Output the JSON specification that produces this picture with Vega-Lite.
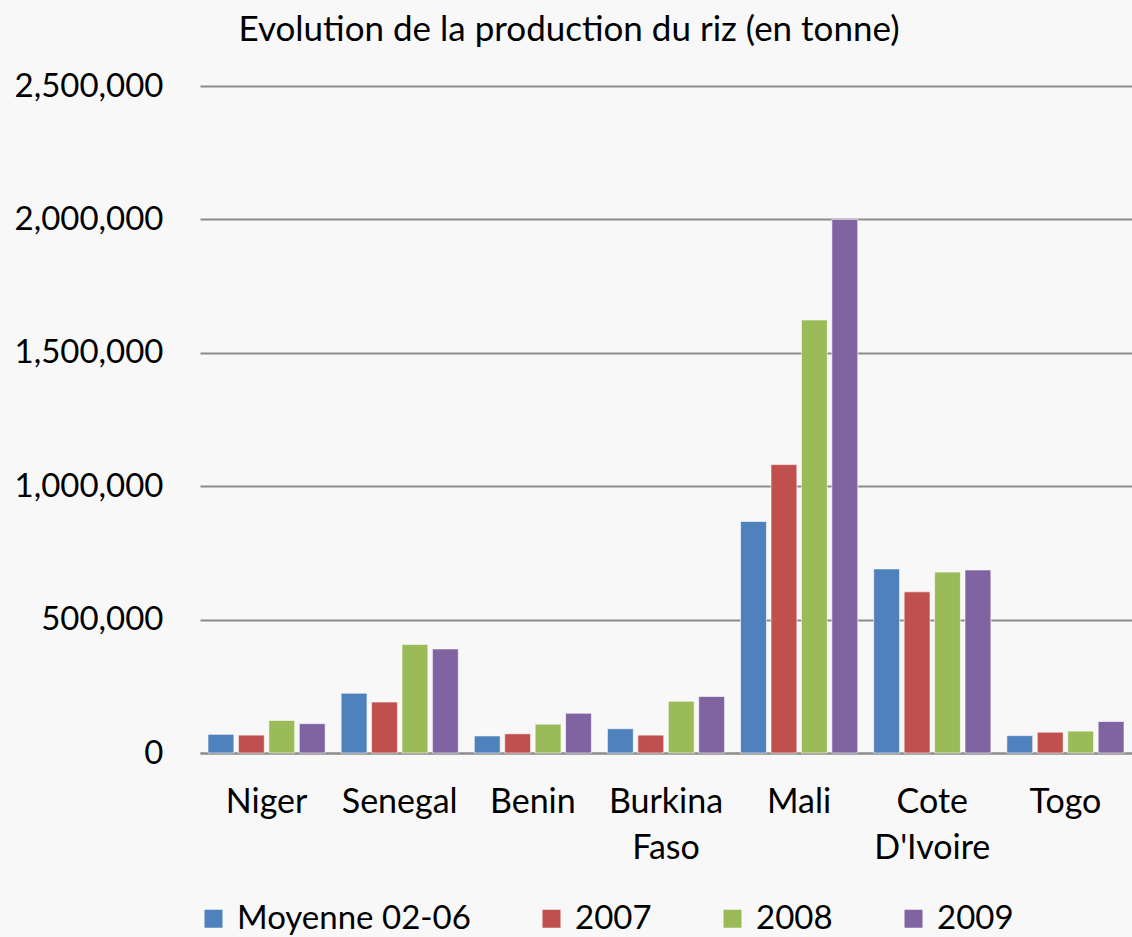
{
  "$schema": "https://vega.github.io/schema/vega-lite/v6.json",
  "width": 932,
  "height": 667,
  "autosize": {"type": "none"},
  "padding": {"left": 200, "top": 86, "right": 0, "bottom": 184},
  "background": "#f8f8f8",
  "title": {
    "text": "Evolution de la production du riz (en tonne)",
    "anchor": "middle",
    "frame": "group",
    "dx": -97,
    "offset": 22,
    "font": "Lato",
    "fontSize": 35,
    "fontWeight": "normal",
    "color": "#000000"
  },
  "data": {
    "values": [
      {"pays": "Niger", "serie": "Moyenne 02-06", "valeur": 70000},
      {"pays": "Niger", "serie": "2007", "valeur": 67000},
      {"pays": "Niger", "serie": "2008", "valeur": 122000},
      {"pays": "Niger", "serie": "2009", "valeur": 110000},
      {"pays": "Senegal", "serie": "Moyenne 02-06", "valeur": 224000},
      {"pays": "Senegal", "serie": "2007", "valeur": 191000},
      {"pays": "Senegal", "serie": "2008", "valeur": 407000},
      {"pays": "Senegal", "serie": "2009", "valeur": 390000},
      {"pays": "Benin", "serie": "Moyenne 02-06", "valeur": 64000},
      {"pays": "Benin", "serie": "2007", "valeur": 72000},
      {"pays": "Benin", "serie": "2008", "valeur": 108000},
      {"pays": "Benin", "serie": "2009", "valeur": 149000},
      {"pays": "Burkina Faso", "serie": "Moyenne 02-06", "valeur": 91000},
      {"pays": "Burkina Faso", "serie": "2007", "valeur": 67000},
      {"pays": "Burkina Faso", "serie": "2008", "valeur": 194000},
      {"pays": "Burkina Faso", "serie": "2009", "valeur": 212000},
      {"pays": "Mali", "serie": "Moyenne 02-06", "valeur": 868000},
      {"pays": "Mali", "serie": "2007", "valeur": 1081000},
      {"pays": "Mali", "serie": "2008", "valeur": 1623000},
      {"pays": "Mali", "serie": "2009", "valeur": 2000000},
      {"pays": "Cote D'Ivoire", "serie": "Moyenne 02-06", "valeur": 690000},
      {"pays": "Cote D'Ivoire", "serie": "2007", "valeur": 604000},
      {"pays": "Cote D'Ivoire", "serie": "2008", "valeur": 678000},
      {"pays": "Cote D'Ivoire", "serie": "2009", "valeur": 686000},
      {"pays": "Togo", "serie": "Moyenne 02-06", "valeur": 65000},
      {"pays": "Togo", "serie": "2007", "valeur": 78000},
      {"pays": "Togo", "serie": "2008", "valeur": 82000},
      {"pays": "Togo", "serie": "2009", "valeur": 118000}
    ]
  },
  "mark": {"type": "bar", "stroke": "#ffffff", "strokeWidth": 1, "strokeOpacity": 0.6},
  "encoding": {
    "x": {
      "field": "pays",
      "type": "nominal",
      "sort": ["Niger", "Senegal", "Benin", "Burkina Faso", "Mali", "Cote D'Ivoire", "Togo"],
      "scale": {"paddingInner": 0.12, "paddingOuter": 0.06},
      "axis": {
        "title": null,
        "labelAngle": 0,
        "labelFont": "Lato",
        "labelFontSize": 34,
        "labelColor": "#000000",
        "labelPadding": 32,
        "labelLineHeight": 46,
        "labelExpr": "split(datum.label, ' ')",
        "ticks": false,
        "domain": true,
        "domainColor": "#8c8c8c",
        "domainWidth": 2
      }
    },
    "xOffset": {
      "field": "serie",
      "type": "nominal",
      "sort": ["Moyenne 02-06", "2007", "2008", "2009"],
      "scale": {"paddingInner": 0.15, "paddingOuter": 0}
    },
    "y": {
      "field": "valeur",
      "type": "quantitative",
      "scale": {"domain": [0, 2500000], "nice": false},
      "axis": {
        "title": null,
        "values": [0, 500000, 1000000, 1500000, 2000000, 2500000],
        "format": ",d",
        "labelFont": "Lato",
        "labelFontSize": 33,
        "labelColor": "#000000",
        "labelPadding": 37,
        "ticks": false,
        "domain": false,
        "grid": true,
        "gridColor": "#8c8c8c",
        "gridWidth": 2
      }
    },
    "color": {
      "field": "serie",
      "type": "nominal",
      "sort": ["Moyenne 02-06", "2007", "2008", "2009"],
      "scale": {
        "domain": ["Moyenne 02-06", "2007", "2008", "2009"],
        "range": ["#4F81BD", "#C0504D", "#9BBB59", "#8064A2"]
      },
      "legend": {
        "title": null,
        "orient": "none",
        "direction": "horizontal",
        "legendX": -3,
        "legendY": 816,
        "symbolType": "square",
        "symbolSize": 324,
        "symbolStrokeWidth": 0,
        "labelFont": "Lato",
        "labelFontSize": 33,
        "labelLimit": 0,
        "labelColor": "#000000",
        "labelOffset": 7,
        "columnPadding": 64
      }
    }
  },
  "config": {
    "view": {"stroke": null},
    "axis": {"gridOpacity": 1}
  }
}
